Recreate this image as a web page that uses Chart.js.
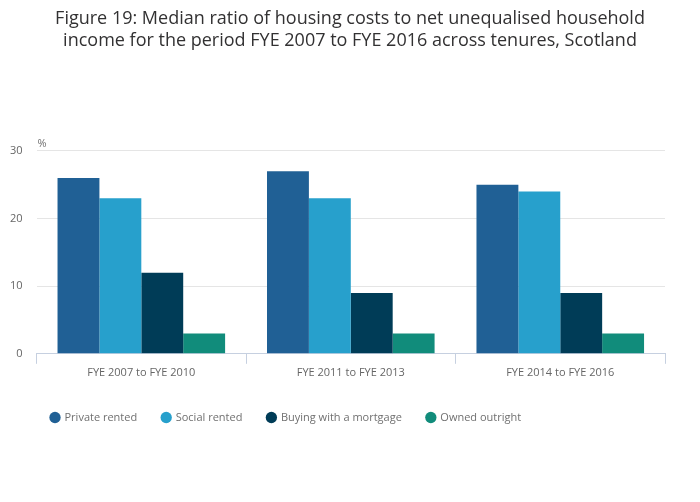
<!DOCTYPE html>
<html>
<head>
<meta charset="utf-8">
<script src="https://cdn.jsdelivr.net/npm/chart.js@4"></script>
<style>
  body { margin: 0; background: #fff; }
  #box { width: 700px; height: 502px; }
</style>
</head>
<body>
<div id="box"><canvas id="grafico"></canvas></div>
<script>
const periodos = ["FYE 2007 to FYE 2010", "FYE 2011 to FYE 2013", "FYE 2014 to FYE 2016"];
const privadoAlugado = [26, 27, 25];
const socialAlugado = [23, 23, 24];
const hipoteca = [12, 9, 9];
const propriedade = [3, 3, 3];
const ticksY = [0, 10, 20, 30];

// escreve o "%" acima do eixo y, centraliza o titulo e empurra a legenda
const ajustes = {
  id: "ajustes",
  afterLayout(chart) {
    chart.legend.left = 26;
    chart.titleBlock.left = 0;
    chart.titleBlock.right = 700;
  },
  afterDraw(chart) {
    const ctx = chart.ctx;
    ctx.save();
    ctx.font = "11px 'Open Sans'";
    ctx.fillStyle = "#707070";
    ctx.textAlign = "left";
    ctx.textBaseline = "bottom";
    ctx.fillText("%", chart.chartArea.left + 1, chart.chartArea.top - 2);
    ctx.restore();
  },
};

const grafico = document.getElementById("grafico");

new Chart(grafico, {
  type: "bar",
  data: {
    labels: periodos,
    datasets: [
      { label: "Private rented", data: privadoAlugado, backgroundColor: "#206095" },
      { label: "Social rented", data: socialAlugado, backgroundColor: "#27a0cc" },
      { label: "Buying with a mortgage", data: hipoteca, backgroundColor: "#003c57" },
      { label: "Owned outright", data: propriedade, backgroundColor: "#118c7b" },
    ],
  },
  options: {
    responsive: true,
    maintainAspectRatio: false,
    animation: false,
    layout: { padding: { left: -4, right: 35, top: 8, bottom: 69 } },
    datasets: { bar: { categoryPercentage: 0.8, barPercentage: 1.0 } },
    plugins: {
      title: {
        display: true,
        text: [
          "Figure 19: Median ratio of housing costs to net unequalised household",
          "income for the period FYE 2007 to FYE 2016 across tenures, Scotland",
        ],
        font: { family: "'Open Sans'", size: 18, weight: "normal", lineHeight: 1.22 },
        color: "#323132",
        padding: { top: 0, bottom: 99 },
      },
      legend: {
        position: "bottom",
        align: "start",
        labels: {
          usePointStyle: true,
          pointStyle: "circle",
          boxWidth: 8,
          boxHeight: 8,
          padding: 25,
          color: "#707070",
          font: { family: "'Open Sans'", size: 11 },
        },
      },
      tooltip: { enabled: false },
    },
    scales: {
      x: {
        afterFit(axis) {
          axis.height += 6;
        },
        grid: {
          offset: true,
          drawOnChartArea: false,
          drawTicks: true,
          tickLength: 10,
          color: "#c6d0e0",
        },
        border: { color: "#c6d0e0" },
        ticks: { color: "#666", font: { family: "'Open Sans'", size: 11 }, padding: 2 },
      },
      y: {
        min: 0,
        max: 30,
        afterBuildTicks(axis) {
          axis.ticks = ticksY.map((v) => ({ value: v }));
        },
        grid: { color: "#e5e5e5", drawTicks: false },
        border: { display: false },
        ticks: { color: "#666", font: { family: "'Open Sans'", size: 11 }, padding: 14 },
      },
    },
  },
  plugins: [ajustes],
});
</script>
</body>
</html>
